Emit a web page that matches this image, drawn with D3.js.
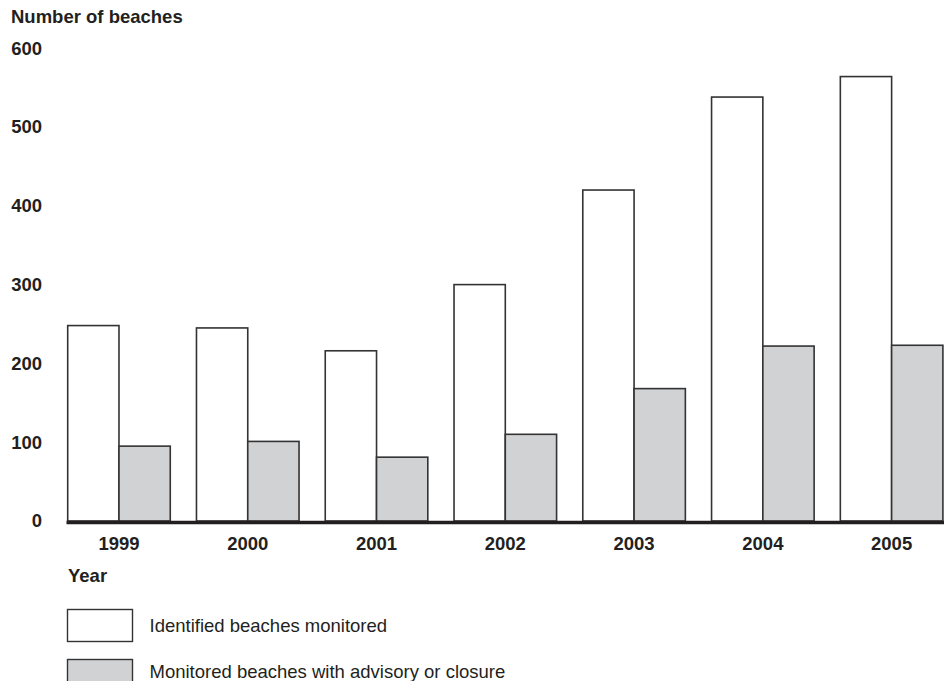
<!DOCTYPE html>
<html>
<head>
<meta charset="utf-8">
<script src="https://cdn.jsdelivr.net/npm/d3@7"></script>
<style>
    body { margin: 0; background: #fff; }
    text { font-family: "Liberation Sans", Arial, sans-serif; fill: #231f20; }
</style>
</head>
<body>
<script>
var years = ['1999', '2000', '2001', '2002', '2003', '2004', '2005'],
    monitored = [248, 245, 216, 300, 420, 538, 564],
    advisory = [95, 101, 81, 110, 168, 222, 223],
    yTicks = [0, 100, 200, 300, 400, 500, 600],
    seriesNames = ['Identified beaches monitored', 'Monitored beaches with advisory or closure'],
    seriesFills = ['#ffffff', '#d1d2d4'];

var width = 951,
    height = 681,
    baseY = 521,
    fontSize = 18.5;

var svg = d3.select('body').append('svg')
    .attr('width', width)
    .attr('height', height);

// scales
var x = d3.scaleBand()
    .domain(years)
    .range([67.7, 942.9])
    .paddingInner(0.2035)
    .paddingOuter(0);

var xSub = d3.scaleBand()
    .domain([0, 1])
    .range([0, x.bandwidth()]);

var y = d3.scaleLinear()
    .domain([0, 600])
    .range([baseY, baseY - 6 * 78.8]);

// title
svg.append('text')
    .attr('x', 11)
    .attr('y', 23)
    .attr('font-size', fontSize)
    .attr('font-weight', 'bold')
    .text('Number of beaches');

// y axis labels (no line)
var yAxis = svg.append('g')
    .attr('transform', 'translate(42,0)')
    .call(d3.axisLeft(y).tickValues(yTicks).tickSize(0).tickPadding(0));

yAxis.select('.domain').remove();
yAxis.selectAll('text')
    .attr('font-size', fontSize)
    .attr('font-weight', 'bold')
    .attr('fill', '#231f20')
    .attr('font-family', '"Liberation Sans", Arial, sans-serif');

// bars
var groups = svg.append('g').selectAll('g')
    .data(years)
    .join('g')
    .attr('transform', function (d) { return 'translate(' + x(d) + ',0)'; });

groups.selectAll('rect')
    .data(function (d, i) { return [monitored[i], advisory[i]]; })
    .join('rect')
    .attr('x', function (d, j) { return xSub(j); })
    .attr('y', function (d) { return y(d); })
    .attr('width', xSub.bandwidth())
    .attr('height', function (d) { return baseY - y(d); })
    .attr('fill', function (d, j) { return seriesFills[j]; })
    .attr('stroke', '#333')
    .attr('stroke-width', 1.6);

// baseline
svg.append('line')
    .attr('x1', 66.5)
    .attr('x2', 944)
    .attr('y1', baseY + 1.5)
    .attr('y2', baseY + 1.5)
    .attr('stroke', '#231f20')
    .attr('stroke-width', 3.6);

// x axis labels
var xAxis = svg.append('g')
    .attr('transform', 'translate(0,' + (baseY + 16) + ')')
    .call(d3.axisBottom(x).tickSize(0).tickPadding(0));

xAxis.select('.domain').remove();
xAxis.selectAll('text')
    .attr('font-size', fontSize)
    .attr('font-weight', 'bold')
    .attr('fill', '#231f20')
    .attr('font-family', '"Liberation Sans", Arial, sans-serif');

svg.append('text')
    .attr('x', 68)
    .attr('y', 582)
    .attr('font-size', fontSize)
    .attr('font-weight', 'bold')
    .text('Year');

// legend
var legend = svg.append('g').selectAll('g')
    .data(seriesNames)
    .join('g')
    .attr('transform', function (d, i) { return 'translate(67.5,' + (609.5 + i * 50) + ')'; });

legend.append('rect')
    .attr('width', 65)
    .attr('height', 32)
    .attr('fill', function (d, i) { return seriesFills[i]; })
    .attr('stroke', '#333')
    .attr('stroke-width', 1.4);

legend.append('text')
    .attr('x', 82)
    .attr('y', function (d, i) { return i === 0 ? 22.5 : 18.5; })
    .attr('font-size', fontSize)
    .text(function (d) { return d; });
</script>
</body>
</html>
